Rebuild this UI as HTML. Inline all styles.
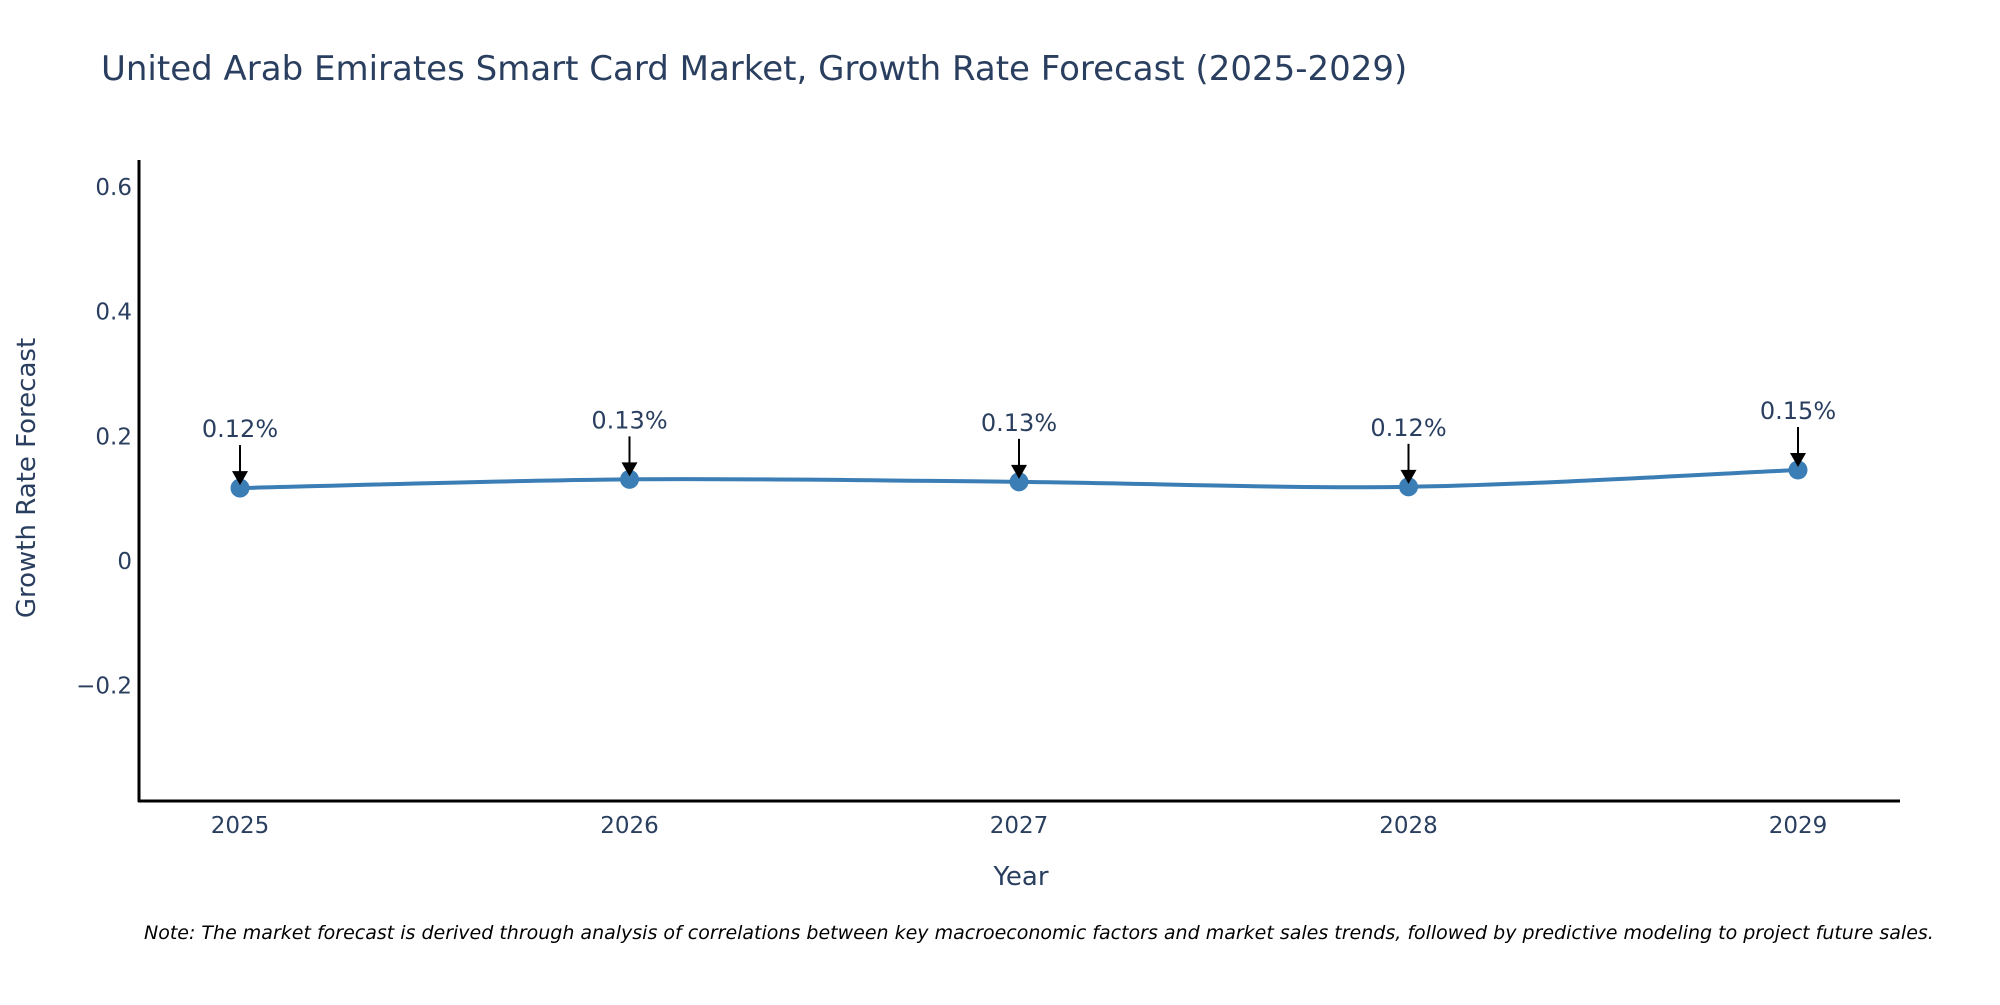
<!DOCTYPE html>
<html><head><meta charset="utf-8"><style>
body{margin:0;background:#fff;}
svg{font-family:"DejaVu Sans","Liberation Sans",sans-serif;}
</style></head><body>
<svg id="chart" width="2000" height="1000" viewBox="0 0 2000 1000" xmlns="http://www.w3.org/2000/svg">
<rect width="2000" height="1000" fill="#fff"/>
<text x="101" y="80" font-size="34" fill="#2a3f5f">United Arab Emirates Smart Card Market, Growth Rate Forecast (2025-2029)</text>
<g id="yticks"></g>
<g id="xticks"></g>
<line x1="139" y1="160" x2="139" y2="802" stroke="#000" stroke-width="3"/>
<line x1="138" y1="801" x2="1900" y2="801" stroke="#000" stroke-width="3"/>
<text x="1021" y="885" font-size="26" fill="#2a3f5f" text-anchor="middle">Year</text>
<text transform="translate(35,478) rotate(-90)" font-size="26" fill="#2a3f5f" text-anchor="middle">Growth Rate Forecast</text>
<path id="line" fill="none" stroke="#3b7db5" stroke-width="4"/>
<g id="points"></g>
<g id="annots"></g>
<text x="144" y="939" font-size="19" font-style="italic" fill="#000">Note: The market forecast is derived through analysis of correlations between key macroeconomic factors and market sales trends, followed by predictive modeling to project future sales.</text>
</svg>
<script>
const years = ["2025","2026","2027","2028","2029"];
const values = [0.117, 0.131, 0.127, 0.119, 0.146];
const labels = ["0.12%","0.13%","0.13%","0.12%","0.15%"];
const yTicks = [-0.2, 0, 0.2, 0.4, 0.6];
const yTickLabels = ["\u22120.2","0","0.2","0.4","0.6"];

const NS="http://www.w3.org/2000/svg";
function xS(i){return 240 + i*(1798-240)/(years.length-1);}
function yS(v){return 561 - v*(561-187)/0.6;}
function mk(tag,attrs,parent){const e=document.createElementNS(NS,tag);for(const k in attrs)e.setAttribute(k,attrs[k]);parent.appendChild(e);return e;}

const yt=document.getElementById('yticks');
yTicks.forEach((t,i)=>{
  const e=mk('text',{x:132,y:yS(t)+8,'font-size':23,fill:'#2a3f5f','text-anchor':'end'},yt);
  
  
  e.textContent=yTickLabels[i];
});
const xt=document.getElementById('xticks');
years.forEach((y,i)=>{
  const e=mk('text',{x:xS(i),y:833,'font-size':23,fill:'#2a3f5f','text-anchor':'middle'},xt);
  
  
  e.textContent=y;
});
const P=values.map((v,i)=>[xS(i),yS(v)]);
let d=`M${P[0][0]},${P[0][1]}`;
for(let i=0;i<P.length-1;i++){
  const p0=P[Math.max(0,i-1)],p1=P[i],p2=P[i+1],p3=P[Math.min(P.length-1,i+2)];
  const t=0.16;
  d+=` C${p1[0]+(p2[0]-p0[0])*t},${p1[1]+(p2[1]-p0[1])*t} ${p2[0]-(p3[0]-p1[0])*t},${p2[1]-(p3[1]-p1[1])*t} ${p2[0]},${p2[1]}`;
}
document.getElementById('line').setAttribute('d',d);
const pts=document.getElementById('points'),an=document.getElementById('annots');
P.forEach((p,i)=>{
  const c=mk('circle',{cx:p[0],cy:p[1],r:9.5,fill:'#3b7db5'},pts);
  
  
  const l=mk('line',{x1:p[0],y1:p[1]-43,x2:p[0],y2:p[1]-14,stroke:'#000','stroke-width':2},an);
  
  
  const h=mk('polygon',{points:`${p[0]-8},${p[1]-17} ${p[0]+8},${p[1]-17} ${p[0]},${p[1]-3}`,fill:'#000'},an);
  
  
  const t=mk('text',{x:p[0],y:p[1]-51,'font-size':24,fill:'#2a3f5f','text-anchor':'middle'},an);
  
  
  t.textContent=labels[i];
});
</script>
</body></html>
